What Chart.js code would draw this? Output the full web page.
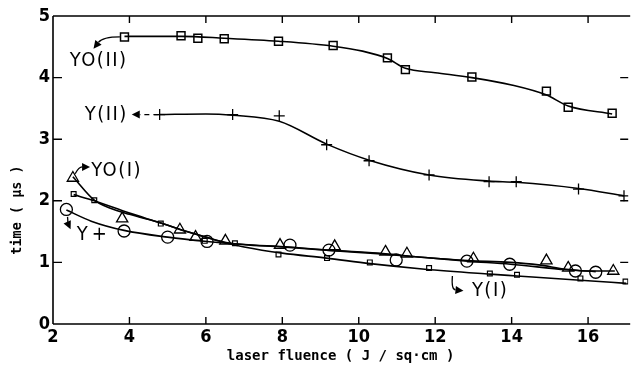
<!DOCTYPE html>
<html><head><meta charset="utf-8">
<script src="https://cdn.jsdelivr.net/npm/chart.js@4/dist/chart.umd.min.js"></script>
<style>html,body{margin:0;padding:0;background:#fff;overflow:hidden}</style>
</head><body>
<canvas id="c" width="636" height="375"></canvas>
<script>
// ---- tick labels ----
const xTicks = [2, 4, 6, 8, 10, 12, 14, 16];
const yTicks = [0, 1, 2, 3, 4, 5];

// ---- measured points ----
// YO(II) : squares
const yo2X = [3.87, 5.35, 5.79, 6.48, 7.90, 9.33, 10.75, 11.22, 12.96, 14.91, 15.48, 16.63];
const yo2Y = [4.66, 4.68, 4.64, 4.63, 4.59, 4.52, 4.32, 4.13, 4.01, 3.78, 3.52, 3.42];
// Y(II) : crosses
const y2X = [4.79, 6.70, 7.92, 9.16, 10.27, 11.84, 13.41, 14.12, 15.75, 16.94];
const y2Y = [3.40, 3.40, 3.38, 2.91, 2.65, 2.42, 2.31, 2.31, 2.19, 2.08];
// YO(I) : triangles
const yo1X = [2.52, 3.81, 5.32, 5.73, 6.51, 7.94, 9.37, 10.70, 11.26, 13.00, 14.91, 15.48, 16.66];
const yo1Y = [2.37, 1.71, 1.53, 1.41, 1.35, 1.28, 1.26, 1.17, 1.14, 1.06, 1.03, 0.91, 0.86];
// Y+ : circles
const ypX = [2.35, 3.86, 5.00, 6.03, 8.20, 9.22, 10.98, 12.83, 13.95, 15.67, 16.20];
const ypY = [1.86, 1.51, 1.41, 1.34, 1.28, 1.20, 1.04, 1.02, 0.97, 0.86, 0.84];
// Y(I) : small squares
const y1X = [2.54, 3.08, 4.82, 5.97, 6.76, 7.90, 9.17, 10.29, 11.84, 13.43, 14.14, 15.80, 16.98];
const y1Y = [2.11, 2.01, 1.63, 1.35, 1.31, 1.13, 1.07, 1.00, 0.91, 0.82, 0.80, 0.74, 0.69];

// ---- smooth fitted curves ----
const yo2FitX = [3.87, 5.35, 6.48, 7.90, 9.33, 10.10, 10.75, 11.22, 12.00, 12.96, 14.00, 14.90, 15.48, 16.63];
const yo2FitY = [4.67, 4.67, 4.64, 4.59, 4.51, 4.43, 4.31, 4.15, 4.08, 4.00, 3.88, 3.72, 3.54, 3.41];
const y2FitX = [4.79, 6.00, 6.70, 7.92, 9.16, 10.27, 11.84, 13.41, 14.12, 15.75, 16.94];
const y2FitY = [3.40, 3.41, 3.39, 3.29, 2.92, 2.66, 2.42, 2.32, 2.30, 2.20, 2.08];
const yo1FitX = [2.52, 3.08, 3.50, 4.00, 4.82, 5.50, 6.00, 6.57, 8.00, 9.15, 10.50, 11.73, 12.85, 13.97, 14.70, 15.43, 16.20, 16.70];
const yo1FitY = [2.39, 2.01, 1.88, 1.78, 1.64, 1.50, 1.41, 1.32, 1.25, 1.20, 1.15, 1.08, 1.03, 1.00, 0.96, 0.89, 0.86, 0.86];
const ypFitX = [2.35, 3.00, 3.86, 5.00, 6.03, 7.00, 8.20, 9.15, 10.50, 11.73, 12.85, 13.97, 15.43, 16.20];
const ypFitY = [1.85, 1.67, 1.52, 1.41, 1.34, 1.29, 1.25, 1.20, 1.14, 1.08, 1.02, 0.97, 0.88, 0.85];
const y1FitX = [2.54, 3.08, 4.00, 4.82, 5.50, 6.00, 6.57, 7.00, 8.00, 9.15, 10.30, 11.73, 13.43, 14.14, 15.80, 17.00];
const y1FitY = [2.10, 2.00, 1.80, 1.64, 1.50, 1.41, 1.31, 1.25, 1.15, 1.07, 0.98, 0.89, 0.81, 0.78, 0.71, 0.66];

// ---- series names ----
const seriesNames = ['YO(II)', 'Y(II)', 'YO(I)', 'Y+', 'Y(I)'];

// label anchors (data coords, left edge / vertical middle)
const labelAt = [
  {text: 'YO(II)', x: 2.44, y: 4.28},
  {text: 'Y(II)',  x: 2.83, y: 3.40},
  {text: 'YO(I)',  x: 3.00, y: 2.48},
  {text: 'Y+',     x: 2.62, y: 1.44},
  {text: 'Y(I)',   x: 12.96, y: 0.54}
];
// arrows (data coords): tail, control, head
const arrows = [
  {t: [3.75, 4.66], c: [3.30, 4.66], h: [3.06, 4.47], dash: false},
  {t: [4.76, 3.40], c: [4.40, 3.40], h: [4.06, 3.40], dash: true},
  {t: [2.58, 2.44], c: [2.68, 2.55], h: [2.97, 2.55], dash: false},
  {t: [2.38, 1.74], c: [2.40, 1.62], h: [2.46, 1.54], dash: false},
  {t: [12.45, 0.78], c: [12.42, 0.56], h: [12.74, 0.54], dash: false}
];

const pts = (xs, ys) => xs.map((x, i) => ({x: x, y: ys[i]}));
const FONT = '"Liberation Sans Narrow", "DejaVu Sans Condensed", "Arial Narrow", sans-serif';

function curve(xs, ys) {
  return {data: pts(xs, ys), showLine: true, pointRadius: 0, borderColor: '#000',
    borderWidth: 1.6, cubicInterpolationMode: 'monotone', fill: false, order: 2};
}
function marks(label, xs, ys, style, r, bw) {
  return {label: label, data: pts(xs, ys), showLine: false, pointStyle: style, pointRadius: r,
    pointBorderWidth: bw, pointBorderColor: '#000', pointBackgroundColor: 'rgba(255,255,255,0)', order: 1};
}

const framePlugin = {
  id: 'frame',
  afterDraw(chart) {
    const ctx = chart.ctx, xs = chart.scales.x, ys = chart.scales.y;
    const {left, right, top, bottom} = chart.chartArea;
    ctx.save();
    ctx.strokeStyle = '#000';
    ctx.lineWidth = 1.6;
    ctx.beginPath();
    ctx.moveTo(left, top); ctx.lineTo(right + 2, top);
    ctx.moveTo(left, top); ctx.lineTo(left, bottom);
    ctx.moveTo(left, bottom); ctx.lineTo(right + 2, bottom);
    ctx.stroke();
    ctx.lineWidth = 1.4;
    ctx.beginPath();
    xTicks.forEach(v => {
      if (v === 2) return;
      const p = xs.getPixelForValue(v);
      ctx.moveTo(p, bottom); ctx.lineTo(p, bottom - 7);
      ctx.moveTo(p, top); ctx.lineTo(p, top + 7);
    });
    yTicks.forEach(v => {
      if (v === 0 || v === 5) return;
      const p = ys.getPixelForValue(v);
      ctx.moveTo(left, p); ctx.lineTo(left + 9, p);
      ctx.moveTo(right, p); ctx.lineTo(right - 8, p);
    });
    ctx.stroke();

    // y title
    ctx.fillStyle = '#000';
    ctx.font = 'bold 13.5px "DejaVu Sans Mono", monospace';
    ctx.textAlign = 'center'; ctx.textBaseline = 'middle';
    ctx.translate(17, 210);
    ctx.rotate(-Math.PI / 2);
    ctx.fillText('time ( \u00b5s )', 0, 0);
    ctx.restore();

    // arrows
    ctx.save();
    ctx.strokeStyle = '#000'; ctx.fillStyle = '#000'; ctx.lineWidth = 1.3;
    arrows.forEach(a => {
      const tx = xs.getPixelForValue(a.t[0]), ty = ys.getPixelForValue(a.t[1]);
      const cx = xs.getPixelForValue(a.c[0]), cy = ys.getPixelForValue(a.c[1]);
      const hx = xs.getPixelForValue(a.h[0]), hy = ys.getPixelForValue(a.h[1]);
      const ang = Math.atan2(hy - cy, hx - cx);
      const L = 8, W = 4;
      const bx = hx - L * Math.cos(ang), by = hy - L * Math.sin(ang);
      ctx.setLineDash(a.dash ? [5, 4] : []);
      ctx.beginPath(); ctx.moveTo(tx, ty); ctx.quadraticCurveTo(cx, cy, bx, by); ctx.stroke();
      ctx.setLineDash([]);
      ctx.beginPath();
      ctx.moveTo(hx, hy);
      ctx.lineTo(bx + W * Math.sin(ang), by - W * Math.cos(ang));
      ctx.lineTo(bx - W * Math.sin(ang), by + W * Math.cos(ang));
      ctx.closePath(); ctx.fill();
    });
    // series labels
    ctx.font = '20px ' + FONT;
    ctx.textAlign = 'left'; ctx.textBaseline = 'middle';
    labelAt.forEach(l => {
      try { ctx.letterSpacing = l.text === 'Y+' ? '4px' : '1.5px'; } catch (e) {}
      ctx.fillText(l.text, xs.getPixelForValue(l.x), ys.getPixelForValue(l.y));
    });
    ctx.restore();
  }
};

new Chart(document.getElementById('c'), {
  type: 'scatter',
  data: {
    datasets: [
      curve(yo2FitX, yo2FitY),
      curve(y2FitX, y2FitY),
      curve(yo1FitX, yo1FitY),
      curve(ypFitX, ypFitY),
      curve(y1FitX, y1FitY),
      marks(seriesNames[0], yo2X, yo2Y, 'rect', 5.6, 1.5),
      marks(seriesNames[1], y2X, y2Y, 'cross', 5.5, 1.3),
      marks(seriesNames[2], yo1X, yo1Y, 'triangle', 6.5, 1.3),
      marks(seriesNames[3], ypX, ypY, 'circle', 6, 1.3),
      marks(seriesNames[4], y1X, y1Y, 'rect', 3.4, 1.2)
    ]
  },
  options: {
    responsive: false,
    animation: false,
    layout: {padding: {top: 16, right: 0, left: 0, bottom: 0}},
    plugins: {legend: {display: false}, tooltip: {enabled: false}},
    scales: {
      x: {
        type: 'linear', min: 2, max: 17.05,
        afterBuildTicks: s => { s.ticks = xTicks.map(v => ({value: v})); },
        afterFit: s => { s.height = 51; },
        grid: {display: false, drawTicks: false},
        border: {display: false},
        ticks: {color: '#000', padding: 3, font: {family: FONT, size: 18, weight: 'bold'}, maxRotation: 0, autoSkip: false},
        title: {display: true, text: 'laser fluence ( J / sq\u00b7cm )', color: '#000',
          font: {family: '"DejaVu Sans Mono", monospace', size: 14, weight: 'bold'}, padding: {top: 0, bottom: 10}}
      },
      y: {
        type: 'linear', min: 0, max: 5,
        afterBuildTicks: s => { s.ticks = yTicks.map(v => ({value: v})); },
        afterFit: s => { s.width = 53; },
        grid: {display: false, drawTicks: false},
        border: {display: false},
        ticks: {color: '#000', padding: 3, font: {family: FONT, size: 18, weight: 'bold'}}
      }
    }
  },
  plugins: [framePlugin]
});
</script>
</body></html>
